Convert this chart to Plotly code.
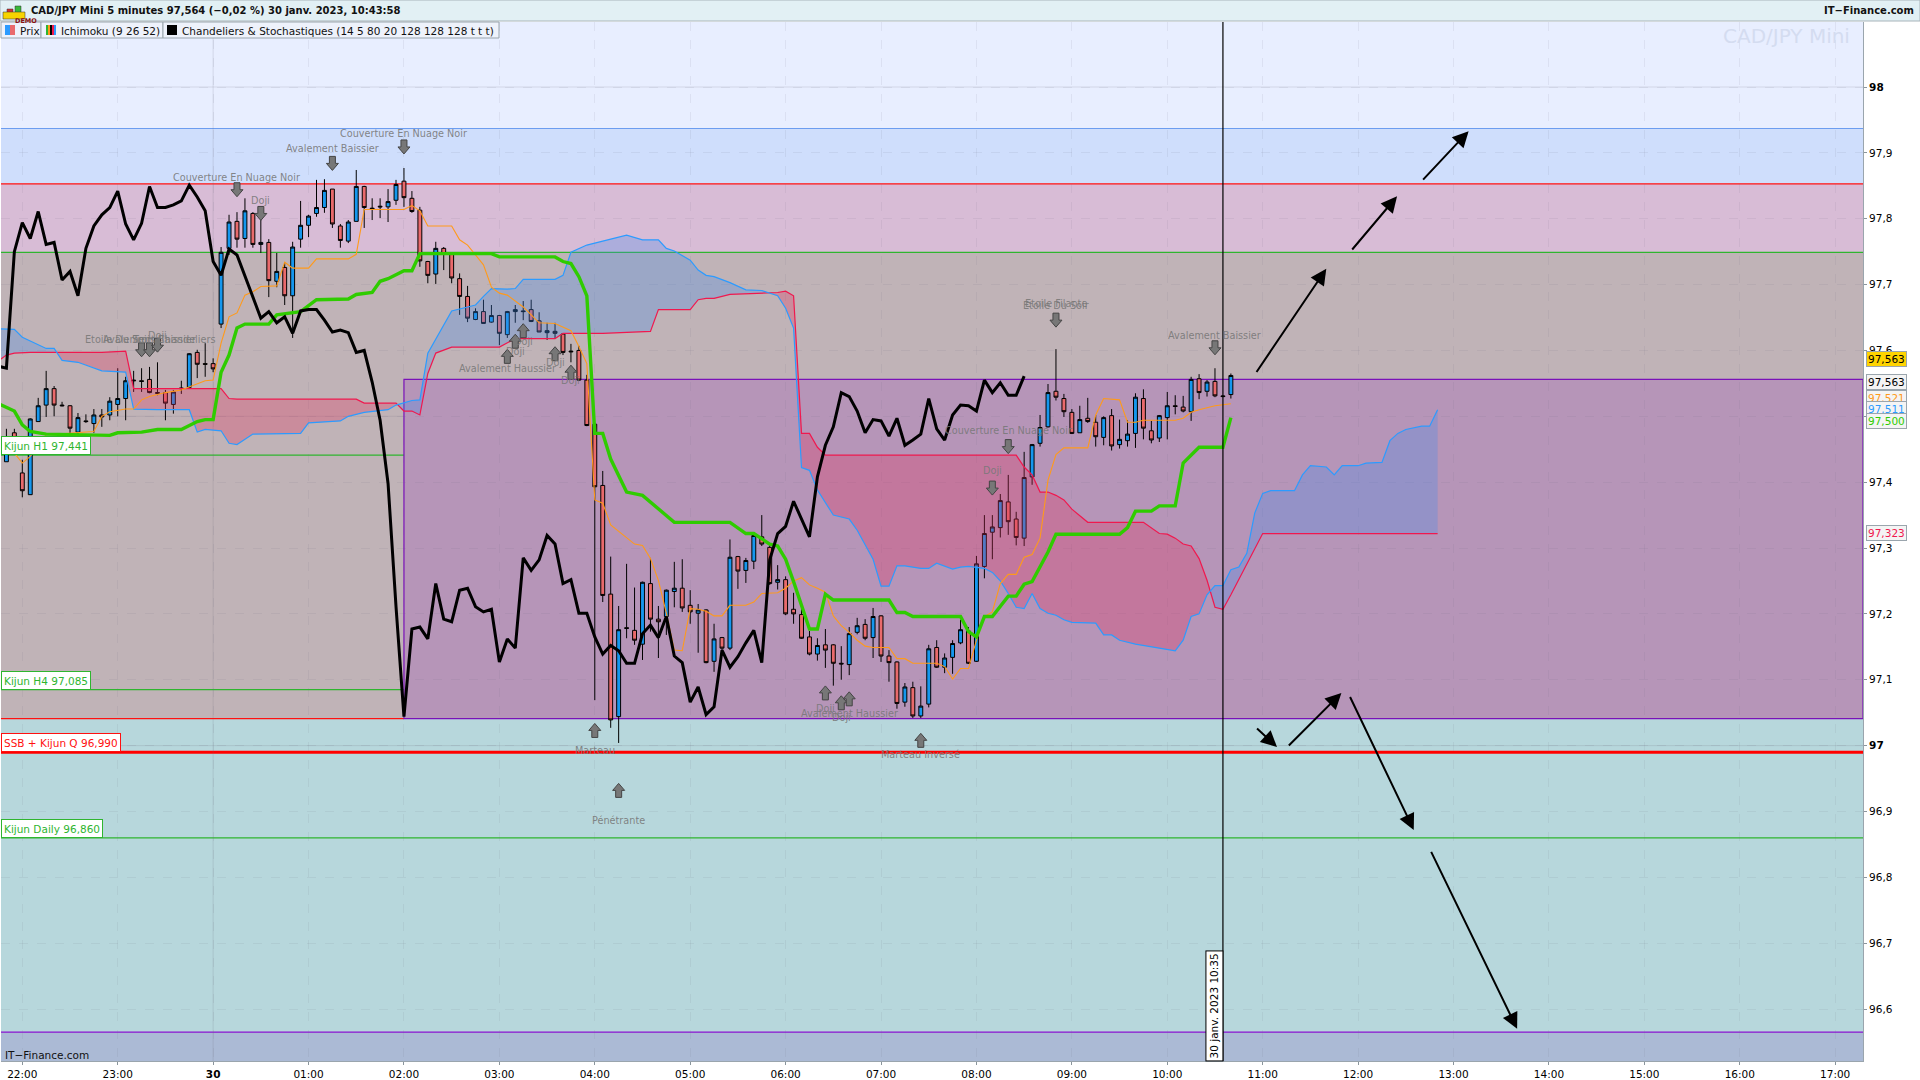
import numpy as np
import pandas as pd
import plotly.graph_objects as go

# ---------- data ----------
first_candle = -2
opens = [97.431,97.475,97.414,97.381,97.492,97.517,97.542,97.517,97.516,97.476,
97.493,97.489,97.502,97.502,97.518,97.527,97.555,97.554,97.556,97.536,
97.536,97.518,97.543,97.544,97.597,97.580,97.580,97.640,97.755,97.796,
97.770,97.808,97.761,97.764,97.705,97.726,97.683,97.769,97.790,97.808,
97.817,97.845,97.789,97.766,97.796,97.849,97.816,97.819,97.818,97.828,
97.857,97.831,97.813,97.735,97.716,97.755,97.746,97.709,97.682,97.647,
97.659,97.643,97.653,97.624,97.659,97.660,97.662,97.645,97.627,97.629,
97.625,97.599,97.600,97.555,97.488,97.395,97.230,97.044,97.179,97.175,
97.154,97.246,97.192,97.196,97.234,97.239,97.213,97.201,97.206,97.128,
97.164,97.148,97.287,97.266,97.280,97.317,97.301,97.248,97.252,97.207,
97.199,97.165,97.139,97.153,97.153,97.125,97.123,97.172,97.184,97.164,
97.197,97.136,97.127,97.066,97.088,97.045,97.063,97.149,97.119,97.134,
97.156,97.174,97.128,97.272,97.324,97.331,97.370,97.344,97.315,97.408,
97.459,97.484,97.538,97.527,97.506,97.475,97.497,97.491,97.468,97.501,
97.457,97.463,97.474,97.527,97.478,97.467,97.498,97.516,97.514,97.507,
97.557,97.538,97.553,97.531,97.533]
closes = [97.449,97.449,97.387,97.496,97.516,97.542,97.517,97.516,97.482,97.498,
97.492,97.502,97.499,97.523,97.527,97.554,97.554,97.553,97.536,97.535,
97.520,97.537,97.542,97.595,97.579,97.579,97.572,97.749,97.795,97.769,
97.812,97.761,97.764,97.706,97.720,97.683,97.757,97.790,97.804,97.817,
97.843,97.792,97.767,97.795,97.849,97.817,97.815,97.818,97.826,97.852,
97.832,97.811,97.736,97.714,97.755,97.746,97.710,97.682,97.649,97.659,
97.641,97.653,97.626,97.659,97.662,97.659,97.644,97.628,97.630,97.626,
97.597,97.598,97.555,97.486,97.393,97.228,97.039,97.176,97.178,97.160,
97.248,97.192,97.188,97.236,97.239,97.209,97.203,97.206,97.126,97.162,
97.148,97.286,97.265,97.281,97.319,97.306,97.246,97.252,97.200,97.200,
97.163,97.139,97.152,97.145,97.125,97.124,97.170,97.182,97.163,97.196,
97.136,97.126,97.064,97.089,97.045,97.060,97.147,97.119,97.133,97.155,
97.176,97.125,97.276,97.322,97.332,97.372,97.340,97.316,97.407,97.457,
97.483,97.536,97.529,97.507,97.474,97.495,97.492,97.469,97.498,97.455,
97.465,97.473,97.529,97.482,97.464,97.501,97.516,97.515,97.508,97.556,
97.536,97.552,97.531,97.530,97.562]
highs = [97.481,97.481,97.434,97.497,97.528,97.569,97.546,97.522,97.517,97.505,
97.503,97.511,97.511,97.529,97.573,97.560,97.569,97.573,97.575,97.582,
97.540,97.540,97.554,97.596,97.601,97.611,97.588,97.757,97.806,97.810,
97.831,97.810,97.818,97.769,97.748,97.734,97.765,97.827,97.806,97.859,
97.860,97.845,97.792,97.798,97.874,97.850,97.831,97.831,97.845,97.859,
97.877,97.842,97.818,97.736,97.765,97.757,97.747,97.717,97.698,97.664,
97.677,97.669,97.654,97.660,97.669,97.675,97.677,97.658,97.642,97.642,
97.625,97.610,97.607,97.563,97.489,97.417,97.287,97.212,97.276,97.240,
97.249,97.285,97.212,97.237,97.279,97.283,97.236,97.215,97.207,97.185,
97.165,97.313,97.288,97.285,97.324,97.350,97.304,97.274,97.257,97.232,
97.216,97.174,97.163,97.177,97.154,97.151,97.180,97.194,97.192,97.209,
97.198,97.145,97.128,97.095,97.097,97.090,97.153,97.160,97.140,97.160,
97.191,97.180,97.288,97.350,97.350,97.382,97.411,97.355,97.446,97.458,
97.502,97.549,97.602,97.534,97.511,97.516,97.528,97.502,97.500,97.511,
97.495,97.494,97.535,97.541,97.493,97.502,97.537,97.532,97.531,97.560,
97.564,97.555,97.573,97.532,97.565]
lows = [97.431,97.446,97.377,97.381,97.492,97.499,97.500,97.515,97.468,97.473,
97.490,97.475,97.484,97.494,97.500,97.494,97.537,97.537,97.535,97.532,
97.494,97.504,97.534,97.543,97.558,97.560,97.567,97.634,97.745,97.756,
97.756,97.756,97.748,97.681,97.696,97.669,97.619,97.756,97.772,97.803,
97.809,97.786,97.756,97.763,97.796,97.786,97.798,97.801,97.795,97.821,
97.818,97.809,97.727,97.702,97.701,97.722,97.702,97.654,97.643,97.646,
97.641,97.642,97.608,97.619,97.642,97.646,97.643,97.628,97.616,97.619,
97.593,97.582,97.554,97.485,97.069,97.218,97.027,97.004,97.163,97.153,
97.130,97.173,97.133,97.168,97.210,97.203,97.185,97.141,97.125,97.112,
97.137,97.145,97.238,97.247,97.268,97.303,97.244,97.237,97.198,97.185,
97.162,97.137,97.129,97.118,97.091,97.100,97.107,97.169,97.160,97.133,
97.127,97.097,97.056,97.059,97.042,97.042,97.058,97.118,97.110,97.109,
97.154,97.124,97.127,97.254,97.283,97.316,97.320,97.304,97.303,97.396,
97.454,97.483,97.524,97.499,97.473,97.475,97.490,97.454,97.456,97.448,
97.451,97.454,97.452,97.465,97.459,97.461,97.465,97.503,97.506,97.493,
97.526,97.530,97.529,97.529,97.527]

kijun_k = [-3,-1,0,1,3,11,12,15,17,20,22,23,24,25,26,27,28,31,32,34,35,37,41,42,44,45,46,48,49,50,59,60,67,68,69,70,71,72,73,74,76,78,80,82,89,91,92,94,95,96,97,98,99,100,101,102,109,110,111,112,118,119,120,121,122,124,125,126,127,129,130,138,139,140,142,143,145,146,147,148,151,152]
kijun_v = [97.519,97.508,97.487,97.477,97.473,97.471,97.475,97.476,97.480,97.480,97.492,97.495,97.495,97.567,97.593,97.634,97.640,97.640,97.654,97.657,97.659,97.677,97.678,97.685,97.688,97.705,97.709,97.721,97.721,97.747,97.747,97.742,97.742,97.735,97.732,97.712,97.683,97.474,97.474,97.435,97.385,97.380,97.360,97.339,97.339,97.322,97.322,97.306,97.303,97.283,97.249,97.213,97.177,97.177,97.230,97.221,97.221,97.202,97.202,97.196,97.196,97.173,97.165,97.196,97.196,97.227,97.227,97.245,97.249,97.294,97.321,97.321,97.331,97.356,97.356,97.364,97.364,97.429,97.441,97.453,97.453,97.498]

tenkan_k = [-1,0,1,3,9,10,11,13,14,15,16,18,20,21,23,24,25,26,27,28,29,30,32,33,34,36,37,41,42,43,48,49,50,51,54,55,56,58,59,60,61,63,65,67,69,70,71,72,73,74,76,77,78,79,80,81,82,83,84,85,86,87,88,89,91,92,93,94,95,96,97,98,99,100,101,102,103,104,105,106,107,109,110,111,112,115,116,117,118,119,120,121,122,123,124,125,126,127,128,129,130,131,134,135,136,138,139,140,141,145,146,147,148,150,151,152]
tenkan_v = [97.444,97.429,97.439,97.472,97.477,97.500,97.507,97.511,97.511,97.525,97.530,97.536,97.540,97.545,97.554,97.555,97.611,97.651,97.657,97.684,97.689,97.697,97.698,97.734,97.725,97.725,97.739,97.739,97.746,97.814,97.814,97.820,97.812,97.789,97.789,97.768,97.760,97.730,97.696,97.687,97.684,97.666,97.642,97.641,97.630,97.606,97.580,97.373,97.368,97.335,97.315,97.306,97.304,97.284,97.251,97.201,97.145,97.144,97.208,97.207,97.204,97.197,97.197,97.213,97.213,97.218,97.231,97.232,97.232,97.239,97.250,97.255,97.244,97.239,97.233,97.197,97.182,97.172,97.160,97.151,97.149,97.149,97.132,97.132,97.125,97.125,97.120,97.101,97.117,97.117,97.160,97.196,97.203,97.246,97.260,97.260,97.286,97.290,97.315,97.403,97.442,97.452,97.452,97.502,97.527,97.525,97.491,97.491,97.494,97.494,97.497,97.506,97.510,97.516,97.517,97.519]

ssa_k = [-3,-1,0,3,4,5,7,9,10,13,14,17,21,22,23,25,26,27,28,29,35,36,40,41,43,46,47,49,50,51,54,57,58,59,61,62,63,67,68,69,71,73,76,78,80,81,82,84,85,86,87,89,91,93,95,96,97,98,99,100,102,104,105,107,108,109,110,111,113,114,115,117,118,119,120,121,122,123,124,125,126,127,128,129,130,131,132,135,136,137,138,140,143,145,146,147,148,149,150,151,152,153,154,155,156,157,160,161,162,164,165,166,168,169,171,172,173,174,176,177,178]
ssa_v = [97.633,97.632,97.620,97.603,97.603,97.585,97.582,97.574,97.569,97.567,97.511,97.510,97.510,97.476,97.480,97.478,97.459,97.457,97.465,97.473,97.474,97.490,97.493,97.500,97.506,97.510,97.517,97.524,97.525,97.596,97.660,97.669,97.682,97.694,97.693,97.694,97.708,97.708,97.714,97.749,97.760,97.766,97.775,97.768,97.768,97.755,97.751,97.737,97.722,97.714,97.712,97.703,97.692,97.691,97.683,97.664,97.634,97.422,97.418,97.388,97.350,97.344,97.327,97.283,97.242,97.242,97.273,97.273,97.269,97.269,97.277,97.268,97.271,97.272,97.270,97.269,97.263,97.250,97.231,97.210,97.208,97.231,97.208,97.201,97.198,97.191,97.187,97.186,97.168,97.168,97.160,97.154,97.148,97.144,97.160,97.196,97.200,97.229,97.243,97.243,97.267,97.271,97.292,97.353,97.383,97.387,97.387,97.411,97.425,97.423,97.411,97.425,97.425,97.429,97.430,97.463,97.474,97.480,97.485,97.485,97.510]

ssb_k = [-3,-2,-1,1,10,13,14,25,26,27,42,43,47,48,49,50,51,52,54,60,62,67,68,73,79,80,84,85,86,87,89,95,96,97,98,99,100,101,125,126,127,128,129,130,131,132,134,141,143,144,145,146,147,148,149,150,151,152,156,178]
ssb_v = [97.584,97.593,97.596,97.597,97.597,97.599,97.542,97.542,97.527,97.526,97.526,97.520,97.520,97.508,97.508,97.502,97.565,97.596,97.605,97.605,97.618,97.618,97.626,97.626,97.629,97.662,97.662,97.677,97.679,97.679,97.685,97.688,97.690,97.683,97.474,97.474,97.453,97.441,97.441,97.423,97.411,97.385,97.385,97.380,97.373,97.359,97.339,97.339,97.322,97.321,97.315,97.306,97.303,97.284,97.251,97.210,97.207,97.229,97.322,97.322]

chikou_first = -3
chikou_v = [97.576,97.573,97.750,97.794,97.770,97.811,97.761,97.764,97.707,97.720,97.683,97.755,97.789,97.806,97.817,97.842,97.792,97.768,97.793,97.849,97.817,97.817,97.821,97.827,97.851,97.833,97.812,97.735,97.714,97.754,97.745,97.714,97.682,97.649,97.659,97.642,97.651,97.626,97.660,97.662,97.662,97.646,97.628,97.631,97.627,97.597,97.600,97.552,97.494,97.398,97.211,97.044,97.177,97.180,97.162,97.246,97.192,97.188,97.236,97.239,97.211,97.203,97.207,97.127,97.162,97.148,97.285,97.266,97.282,97.319,97.306,97.246,97.252,97.201,97.201,97.165,97.139,97.152,97.144,97.125,97.125,97.170,97.183,97.164,97.196,97.136,97.126,97.066,97.089,97.047,97.059,97.145,97.119,97.135,97.156,97.175,97.126,97.282,97.322,97.333,97.371,97.344,97.317,97.408,97.456,97.484,97.536,97.530,97.508,97.475,97.495,97.493,97.470,97.497,97.456,97.464,97.473,97.527,97.481,97.464,97.502,97.517,97.516,97.508,97.555,97.536,97.551,97.532,97.532,97.561]

zone_edges = [98.0987,97.937,97.853,97.749,97.041,96.565,96.5211]
zone_colors = ["#e8eeff","#cfdefc","#d8bcd6","#c0b3b7","#b7d7dc","#abbad5"]
zone_lines = [(97.937,"#6c9df0",1.2),(97.853,"#ff1010",1.2),(97.749,"#2fb52f",1.2),(96.565,"#8a12d0",1.2)]
box_top, box_bottom, box_start_k = 97.556, 97.041, 48
kijun_levels = [97.441,97.085,96.860]
ssb_level = 96.990
level_labels = [("Kijun H1 97,441",97.441,"#2fb52f"),("Kijun H4 97,085",97.085,"#2fb52f"),
                ("SSB + Kijun Q 96,990",96.990,"#ff1010"),("Kijun Daily 96,860",96.860,"#2fb52f")]

pattern_arrows_down = [(48,97.909),(39,97.884),(27,97.844),(30,97.808),(15,97.601),(16,97.601),(17,97.608),(124,97.454),(122,97.391),(130,97.646),(150,97.604)]
pattern_arrows_up = [(63,97.630),(62,97.614),(61,97.591),(67,97.595),(69,97.567),(72,97.023),(75,96.932),(101,97.080),(103,97.065),(104,97.071),(113,97.008)]
pattern_texts = [("Couverture En Nuage Noir",48,97.929),("Avalement Baissier",39,97.906),("Couverture En Nuage Noir",27,97.863),("Doji",30,97.827),
 ("Etoile Du Soir",12,97.616),("Avalement Baissier",16,97.616),("Trois Chandeliers",19,97.616),("Doji",17,97.623),
 ("Doji",63,97.613),("Doji",62,97.598),("Avalement Haussier",61,97.573),("Doji",67,97.581),("Doji",69,97.555),
 ("Couverture En Nuage Noir",124,97.479),("Doji",122,97.417),("Etoile Du Soir",130,97.669),("Etoile Filante",130,97.672),
 ("Avalement Baissier",150,97.622),("Marteau",72,96.992),("Pénétrante",75,96.887),("Doji",101,97.057),("Doji",103,97.042),
 ("Avalement Haussier",104,97.048),("Marteau Inversé",113,96.987)]
drawn_arrows = [(155.1,97.565,164,97.724),(167.1,97.751,172.9,97.834),(176,97.857,181.9,97.933),(155.1,97.028,157.8,96.998),
                (159.1,96.998,165.9,97.080),(166.9,97.076,175,96.872),(177.1,96.841,188,96.570)]
x_tick_k = list(range(0,229,12))
x_tick_text = ["22:00","23:00","<b>30</b>","01:00","02:00","03:00","04:00","05:00","06:00","07:00","08:00","09:00","10:00","11:00","12:00","13:00","14:00","15:00","16:00","17:00"]
y_ticks = [98,97.9,97.8,97.7,97.6,97.5,97.4,97.3,97.2,97.1,97,96.9,96.8,96.7,96.6]
y_text = ["<b>98</b>","97,9","97,8","97,7","97,6","97,5","97,4","97,3","97,2","97,1","<b>97</b>","96,9","96,8","96,7","96,6"]
cursor_k = 151
x_window = (-2.68, 231.5)

# ---------- helpers ----------
W, H = 1920, 1080
L, R, T, B = 1, 57, 22, 19
FONT = "DejaVu Sans"
T0 = pd.Timestamp("2023-01-29 22:00")
def tm(k):
    return (T0 + pd.Timedelta(minutes=float(k)*5)).strftime("%Y-%m-%d %H:%M:%S")
def tl(ks):
    return [tm(k) for k in ks]
def px(x): return (x-L)/(W-L-R)
def py(y): return 1-(y-T)/(H-T-B)

fig = go.Figure()

# cloud
all_k = sorted(set(ssa_k) | set(ssb_k))
a = np.interp(all_k, ssa_k, ssa_v); b = np.interp(all_k, ssb_k, ssb_v)
runs, cur_k, cur_a, cur_b = [], [all_k[0]], [a[0]], [b[0]]
for i in range(1, len(all_k)):
    d0, d1 = a[i-1]-b[i-1], a[i]-b[i]
    if d0*d1 < 0:
        f = d0/(d0-d1); kc = all_k[i-1]+f*(all_k[i]-all_k[i-1]); vc = a[i-1]+f*(a[i]-a[i-1])
        cur_k.append(kc); cur_a.append(vc); cur_b.append(vc)
        runs.append((cur_k, cur_a, cur_b, d0 > 0))
        cur_k, cur_a, cur_b = [kc], [vc], [vc]
    cur_k.append(all_k[i]); cur_a.append(a[i]); cur_b.append(b[i])
runs.append((cur_k, cur_a, cur_b, a[-1] > b[-1]))
for ks, aa, bb, up in runs:
    fig.add_trace(go.Scatter(x=tl(ks)+tl(ks[::-1]), y=list(aa)+list(bb)[::-1], fill="toself", mode="none",
        fillcolor="rgba(70,140,235,0.30)" if up else "rgba(225,50,95,0.30)", hoverinfo="skip", showlegend=False))

fig.add_trace(go.Scatter(x=tl(ssb_k), y=ssb_v, mode="lines", line=dict(color="#f0184e", width=1.2), name="SSB"))
fig.add_trace(go.Scatter(x=tl(ssa_k), y=ssa_v, mode="lines", line=dict(color="#2c9bff", width=1.2), name="SSA"))
candle_k = [first_candle+i for i in range(len(opens))]
fig.add_trace(go.Candlestick(x=tl(candle_k), open=opens, high=highs, low=lows, close=closes, name="Prix",
    increasing=dict(line=dict(color="#000000", width=1), fillcolor="#1597ee"),
    decreasing=dict(line=dict(color="#000000", width=1), fillcolor="#e96a6c")))
fig.add_trace(go.Scatter(x=tl(tenkan_k), y=tenkan_v, mode="lines", line=dict(color="#ff9a1a", width=1.1), name="Tenkan"))
fig.add_trace(go.Scatter(x=tl(kijun_k), y=kijun_v, mode="lines", line=dict(color="#2fcc00", width=3.4), name="Kijun"))
chikou_k = [chikou_first+i for i in range(len(chikou_v))]
fig.add_trace(go.Scatter(x=tl(chikou_k), y=chikou_v, mode="lines", line=dict(color="#000000", width=3), name="Chikou"))

shapes, anns = [], []
for i, c in enumerate(zone_colors):
    shapes.append(dict(type="rect", xref="paper", yref="y", x0=0, x1=1, y0=zone_edges[i+1], y1=zone_edges[i], fillcolor=c, line_width=0, layer="below"))
shapes.append(dict(type="rect", xref="x", yref="y", x0=tm(box_start_k), x1=tm(x_window[1]), y0=box_bottom, y1=box_top,
                   fillcolor="#b695b8", line_width=0, layer="below"))
shapes.append(dict(type="line", xref="x", yref="y", x0=tm(x_window[0]), x1=tm(box_start_k), y0=box_bottom, y1=box_bottom,
                   line=dict(color="#ff1010", width=1.2), layer="between"))
for v, c, w in zone_lines:
    shapes.append(dict(type="line", xref="paper", yref="y", x0=0, x1=1, y0=v, y1=v, line=dict(color=c, width=w), layer="between"))
for v in kijun_levels:
    shapes.append(dict(type="line", xref="paper", yref="y", x0=0, x1=1, y0=v, y1=v, line=dict(color="#2fb52f", width=1.2), layer="between"))
shapes.append(dict(type="rect", xref="x", yref="y", x0=tm(box_start_k), x1=tm(x_window[1]), y0=box_bottom, y1=box_top,
                   line=dict(color="#7a12b8", width=1.2), layer="between"))
shapes.append(dict(type="line", xref="paper", yref="y", x0=0, x1=1, y0=ssb_level, y1=ssb_level, line=dict(color="#ff0000", width=3), layer="between"))
for v in (98, 97.5, 97):
    shapes.append(dict(type="line", xref="paper", yref="y", x0=0, x1=1, y0=v, y1=v, line=dict(color="rgba(110,110,130,0.18)", width=1), layer="between"))
shapes.append(dict(type="line", xref="x", yref="paper", x0=tm(24), x1=tm(24), y0=0, y1=1, line=dict(color="rgba(110,110,130,0.18)", width=1), layer="between"))

# pattern arrows
P_DOWN = "M-3,7 L3,7 L3,0 L6,0 L0,-7 L-6,0 L-3,0 Z"
P_UP = "M-3,-7 L3,-7 L3,0 L6,0 L0,7 L-6,0 L-3,0 Z"
for group, path in ((pattern_arrows_down, P_DOWN), (pattern_arrows_up, P_UP)):
    for k, v in group:
        shapes.append(dict(type="path", xref="x", yref="y", xsizemode="pixel", ysizemode="pixel", xanchor=tm(k), yanchor=v,
                           path=path, fillcolor="#777777", line=dict(color="#444444", width=1), layer="above"))
for txt, k, v in pattern_texts:
    anns.append(dict(x=tm(k), y=v, xref="x", yref="y", text=txt, showarrow=False, font=dict(family=FONT, size=9.7, color="rgba(120,120,120,0.9)")))

# drawn arrows
for k0, v0, k1, v1 in drawn_arrows:
    anns.append(dict(x=tm(k1), y=v1, ax=tm(k0), ay=v0, xref="x", yref="y", axref="x", ayref="y", text="", showarrow=True,
                     arrowhead=2, arrowsize=1.6, arrowwidth=2, arrowcolor="#000000"))

# cursor
shapes.append(dict(type="line", xref="x", yref="paper", x0=tm(cursor_k), x1=tm(cursor_k), y0=0, y1=1, line=dict(color="#000000", width=1.2), layer="above"))
anns.append(dict(x=tm(cursor_k), y=0, xref="x", yref="paper", xanchor="right", yanchor="bottom", text="30 janv. 2023 10:35", textangle=-90, showarrow=False,
                 bgcolor="#ffffff", bordercolor="#000000", borderwidth=1, borderpad=2, font=dict(family=FONT, size=10.5, color="#000000")))

# level labels
for txt, v, c in level_labels:
    anns.append(dict(x=0, y=v, xref="paper", yref="y", xanchor="left", yanchor="bottom", text=txt, showarrow=False, bgcolor="#ffffff", bordercolor=c,
                     borderwidth=1, borderpad=2, height=13, font=dict(family=FONT, size=10.5, color=c)))

# right side value labels
right_labels = [("97,563",97.563,16,"#ffd400","#000000"),("97,563",97.563,-7,"#f4f4f4","#000000"),("97,521",97.521,4,"#f4f4f4","#ff9a1a"),
                ("97,511",97.511,0,"#f4f4f4","#2c9bff"),("97,500",97.500,-5,"#f4f4f4","#2fcc00"),("97,323",97.323,0,"#f4f4f4","#f0184e")]
for txt, v, dy, bg, c in right_labels:
    anns.append(dict(x=px(1866), y=v, yshift=dy, xref="paper", yref="y", xanchor="left", yanchor="middle", text=txt, showarrow=False, bgcolor=bg,
                     bordercolor="#9aa5ad", borderwidth=1, borderpad=1, font=dict(family=FONT, size=10.5, color=c)))

# header + chrome
shapes.append(dict(type="rect", xref="paper", yref="paper", x0=px(0), x1=px(W), y0=py(21), y1=py(0), fillcolor="#e2f0f4", line=dict(color="#a8b4ba", width=1), layer="above"))
anns.append(dict(x=px(29), y=py(11), xref="paper", yref="paper", xanchor="left", yanchor="middle", showarrow=False,
                 text="<b>CAD/JPY Mini 5 minutes 97,564 (−0,02 %) 30 janv. 2023, 10:43:58</b>", font=dict(family=FONT, size=10, color="#111111")))
anns.append(dict(x=px(1916), y=py(11), xref="paper", yref="paper", xanchor="right", yanchor="middle", showarrow=False,
                 text="<b>IT−Finance.com</b>", font=dict(family=FONT, size=10, color="#111111")))
shapes.append(dict(type="rect", xref="paper", yref="paper", x0=px(7), x1=px(13), y0=py(13), y1=py(9), fillcolor="#d43030", line=dict(color="#333", width=0.5), layer="above"))
shapes.append(dict(type="rect", xref="paper", yref="paper", x0=px(15), x1=px(21), y0=py(13), y1=py(6), fillcolor="#38b838", line=dict(color="#333", width=0.5), layer="above"))
shapes.append(dict(type="rect", xref="paper", yref="paper", x0=px(3), x1=px(25), y0=py(19), y1=py(12), fillcolor="#f7d400", line=dict(color="#333", width=0.5), layer="above"))
anns.append(dict(x=px(14), y=py(15.5), xref="paper", yref="paper", showarrow=False, text="<b>DEMO</b>",
                 font=dict(family=FONT, size=6.5, color="#8a1010"), borderpad=0))
for x0, x1 in ((1, 41), (41, 163), (163, 499)):
    shapes.append(dict(type="rect", xref="paper", yref="paper", x0=px(x0), x1=px(x1), y0=py(38), y1=py(22), fillcolor="#eef2fb", line=dict(color="#9aa5ad", width=1), layer="above"))
legend_texts = [("Prix",18),("Ichimoku (9 26 52)",59),("Chandeliers &amp; Stochastiques (14 5 80 20 128 128 128 t t t)",180)]
for txt, x in legend_texts:
    anns.append(dict(x=px(x), y=py(30.5), xref="paper", yref="paper", xanchor="left", yanchor="middle", showarrow=False, text=txt,
                     font=dict(family=FONT, size=10.5, color="#111111")))
for x0, x1, c in ((5,10,"#2c9bff"),(10,15,"#e96a6c"),(46,48,"#2fb52f"),(48,50,"#ff9a1a"),(50,52,"#000000"),(52,54,"#f0184e"),(54,56,"#2c9bff"),(167,177,"#000000")):
    shapes.append(dict(type="rect", xref="paper", yref="paper", x0=px(x0), x1=px(x1), y0=py(35), y1=py(25), fillcolor=c, line_width=0, layer="above"))
anns.append(dict(x=px(1852), y=py(36), xref="paper", yref="paper", xanchor="right", yanchor="middle", showarrow=False, text="CAD/JPY Mini",
                 font=dict(family=FONT, size=20, color="#d4dcf0")))
anns.append(dict(x=px(3), y=py(1055), xref="paper", yref="paper", xanchor="left", yanchor="middle", showarrow=False, text="IT−Finance.com",
                 font=dict(family=FONT, size=10.5, color="#111111")))

fig.update_layout(width=W, height=H, margin=dict(l=L, r=R, t=T, b=B), paper_bgcolor="#ffffff", plot_bgcolor="#ffffff",
                  showlegend=False, hovermode=False, shapes=shapes, annotations=anns, font=dict(family=FONT, size=10.5, color="#000000"))
fig.update_xaxes(type="date", range=[tm(x_window[0]), tm(x_window[1])], rangeslider_visible=False, tickmode="array",
                 tickvals=tl(x_tick_k), ticktext=x_tick_text, ticks="outside", ticklen=3, tickcolor="#8a959c",
                 showgrid=True, gridcolor="rgba(110,110,130,0.10)", griddash="dash", gridwidth=1,
                 showline=True, linecolor="#9aa5ad", linewidth=1, tickangle=0, zeroline=False)
fig.update_yaxes(side="right", range=[zone_edges[-1], zone_edges[0]], tickmode="array", tickvals=y_ticks, ticktext=y_text,
                 ticks="outside", ticklen=3, tickcolor="#8a959c", showgrid=True, gridcolor="rgba(110,110,130,0.10)", griddash="dash",
                 showline=True, linecolor="#9aa5ad", linewidth=1, zeroline=False)

fig.write_html("out.html", config=dict(displayModeBar=False),
               post_script="document.body.style.margin='0';document.body.style.overflow='hidden';")
